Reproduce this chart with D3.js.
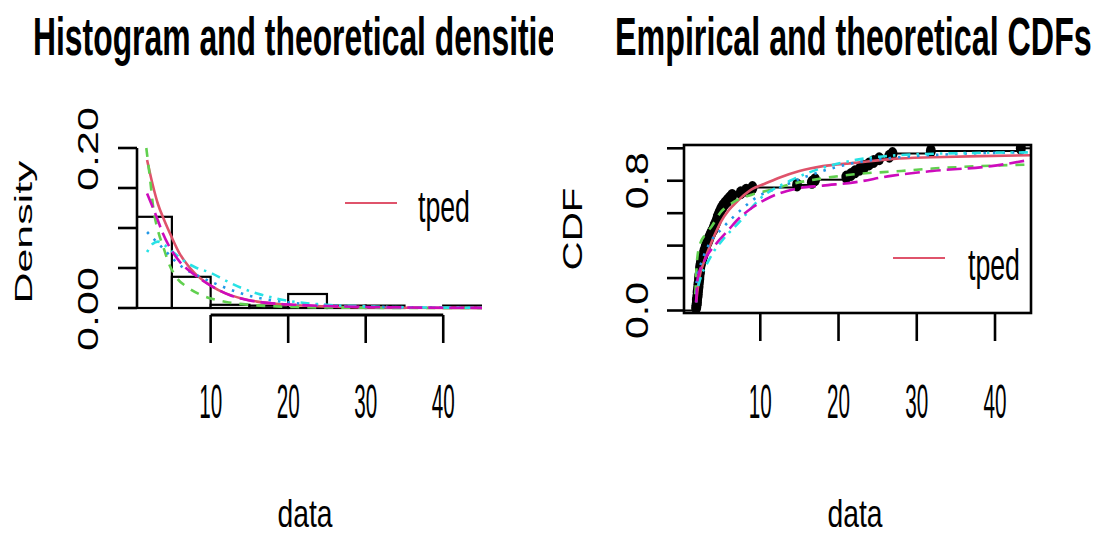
<!DOCTYPE html>
<html>
<head>
<meta charset="utf-8">
<script src="https://cdn.jsdelivr.net/npm/d3@7"></script>
<style>
  body { margin: 0; background: #fff; }
  svg { display: block; }
  text { font-family: "Liberation Sans", Arial, sans-serif; fill: #000; }
</style>
</head>
<body>
<svg id="chart" width="1102" height="534"></svg>
<script>
// ---- Histogram (density scale) ----
const binEdges   = [0, 5, 10, 15, 20, 25, 30, 35, 40, 45];
const binDensity = [0.114, 0.039, 0.004, 0.003, 0.0175, 0.003, 0.003, 0, 0.003];

// ---- Observed sample (sorted) used for the empirical CDF ----
const sample = [
  1.8, 1.85, 1.9, 1.9, 1.95, 2.0, 2.0, 2.05, 2.1, 2.1, 2.15, 2.2, 2.2, 2.25, 2.3, 2.3, 2.35, 2.4, 2.5,
  2.6, 2.7, 2.8, 2.9, 3.0, 3.1, 3.25, 3.4, 3.5, 3.65, 3.8, 4.0,
  4.1, 4.25, 4.4, 4.5, 4.6, 4.75, 4.9, 5.05, 5.25,
  5.5, 5.8, 6.1, 6.4,
  7.5, 8.2, 9.0,
  14.7,
  16.6, 17.0,
  21.0, 21.6, 22.1, 22.7, 23.3, 23.9, 24.5, 25.2,
  26.5, 26.9,
  31.8,
  43.3
];

// ---- Fitted densities: [x, density] ----
const densTped = [[1.8,0.185],[2.5,0.155],[3.2,0.13],[4,0.11],[5,0.088],[6,0.068],[7,0.054],[8,0.043],[10,0.028],[12,0.018],[14,0.012],[16,0.008],[20,0.004],[25,0.0018],[30,0.0008],[35,0.0004],[45,0.0001]];
const densFit2 = [[1.7,0.2],[2.2,0.16],[2.6,0.125],[3.2,0.097],[3.9,0.076],[4.6,0.056],[5.6,0.038],[7,0.026],[8.6,0.017],[10,0.012],[12,0.0075],[15,0.004],[18,0.0022],[21,0.0012],[30,0.0003],[45,0]];
const densFit3 = [[1.8,0.095],[2.5,0.088],[3.5,0.078],[4.5,0.068],[5.5,0.058],[6.5,0.05],[8,0.042],[10,0.033],[12,0.025],[14,0.018],[16,0.013],[18,0.0095],[20,0.007],[25,0.0035],[30,0.0018],[35,0.001],[45,0.0003]];
const densFit4 = [[1.8,0.07],[2.5,0.08],[3.2,0.083],[4,0.079],[5,0.071],[6,0.063],[7,0.056],[8,0.051],[10,0.044],[12,0.034],[14,0.025],[16,0.018],[18,0.013],[20,0.009],[25,0.004],[30,0.002],[35,0.001],[45,0.0003]];
const densFit5 = [[1.8,0.143],[2.4,0.129],[3.1,0.112],[3.8,0.094],[4.6,0.078],[6,0.058],[8,0.041],[10,0.028],[12.5,0.016],[15,0.0095],[18,0.0058],[21.5,0.0038],[25,0.0025],[30,0.0013],[35,0.0007],[45,0.0002]];

// ---- Fitted CDFs: [x, probability] ----
const cdfTped = [[1.8,0.05],[2.2,0.2],[2.8,0.3],[3.5,0.39],[4.2,0.47],[5,0.55],[6,0.62],[7,0.67],[8,0.715],[9,0.75],[10.5,0.78],[12.5,0.82],[15,0.86],[18,0.89],[22,0.91],[27,0.935],[32,0.945],[38,0.952],[44.6,0.957]];
const cdfFit2 = [[1.7,0.1],[1.9,0.3],[2.3,0.41],[3,0.47],[3.8,0.52],[5,0.61],[6,0.65],[7,0.68],[9,0.715],[11,0.74],[14,0.78],[18,0.815],[22,0.84],[28,0.86],[32,0.875],[38,0.89],[44.6,0.9]];
const cdfFit3 = [[1.8,0.05],[1.9,0.2],[2.5,0.3],[3.6,0.42],[5,0.5],[6.2,0.56],[8,0.64],[9.6,0.7],[12.6,0.76],[15,0.81],[18,0.86],[22,0.91],[26.7,0.94],[35,0.965],[44.6,0.975]];
const cdfFit4 = [[1.8,0.1],[2.5,0.22],[3.2,0.29],[4,0.36],[5.1,0.43],[7.4,0.55],[10,0.69],[13.8,0.8],[18,0.88],[22.4,0.93],[31,0.965],[44.6,0.975]];
const cdfFit5 = [[1.8,0.05],[2,0.2],[2.9,0.31],[4.5,0.42],[6,0.5],[7,0.555],[9,0.635],[11.3,0.7],[14.5,0.75],[18,0.77],[22,0.79],[26.7,0.83],[32,0.86],[39.5,0.89],[44.6,0.93]];

// ---- Axis ticks and labels ----
const xTicks        = [10, 20, 30, 40];
const densTicks     = [0, 0.05, 0.10, 0.15, 0.20];
const densLabelled  = [0, 0.20];
const cdfTicks      = [0, 0.2, 0.4, 0.6, 0.8, 1.0];
const cdfLabelled   = [0, 0.8];
const legendNames   = ["tped"];

// line styles for the five fits (R default palette 2..6, lty 1..5)
const fitStyles = [
  { color: "#DF536B", dash: null },
  { color: "#61D04F", dash: "9,8" },
  { color: "#2297E6", dash: "2.5,7" },
  { color: "#28E2E5", dash: "2.5,6,9,6" },
  { color: "#CD0BBC", dash: "15,6" }
];
const densSeries = [densTped, densFit2, densFit3, densFit4, densFit5];
const cdfSeries  = [cdfTped, cdfFit2, cdfFit3, cdfFit4, cdfFit5];

const svg = d3.select("#chart");
const defs = svg.append("defs");

// text helper: squeezes the text horizontally (in its own frame) to a given length,
// which gives the narrow, tall lettering
function label(g, str, x, y, size, len, opts = {}) {
  const t = g.append("text")
    .attr("font-size", size)
    .attr("font-weight", opts.bold ? "bold" : "normal")
    .attr("text-anchor", opts.anchorStart ? "start" : "middle")
    .text(str);
  const natural = t.node().getComputedTextLength();
  const sx = len / natural;
  const rot = opts.rotate ? " rotate(-90)" : "";
  t.attr("transform", `translate(${x},${y})${rot} scale(${sx},1)`);
  return t;
}

// ================= Left panel: histogram + densities =================
const xL = d3.scaleLinear().domain([0.5, 45]).range([137, 482]);
const yL = d3.scaleLinear().domain([0, 0.2]).range([308, 148]);

defs.append("clipPath").attr("id", "clipL")
  .append("rect").attr("x", 137).attr("y", 141).attr("width", 345).attr("height", 174);
defs.append("clipPath").attr("id", "clipTitleL")
  .append("rect").attr("x", 0).attr("y", 0).attr("width", 553).attr("height", 90);

const left = svg.append("g");

label(left.append("g").attr("clip-path", "url(#clipTitleL)"),
  "Histogram and theoretical densities", 33, 55, 53, 540, { bold: true, anchorStart: true });

const bars = binDensity.map((d, i) => ({ x0: binEdges[i], x1: binEdges[i + 1], d }));
left.append("g").attr("clip-path", "url(#clipL)")
  .selectAll("rect").data(bars).join("rect")
  .attr("x", b => xL(b.x0))
  .attr("width", b => xL(b.x1) - xL(b.x0))
  .attr("y", b => yL(b.d))
  .attr("height", b => yL(0) - yL(b.d))
  .attr("fill", "#fff")
  .attr("stroke", "#000")
  .attr("stroke-width", 2.2);

const densLine = d3.line().x(p => xL(p[0])).y(p => yL(p[1])).curve(d3.curveMonotoneX);
left.append("g").attr("clip-path", "url(#clipL)")
  .selectAll("path").data(densSeries).join("path")
  .attr("d", densLine)
  .attr("fill", "none")
  .attr("stroke", (s, i) => fitStyles[i].color)
  .attr("stroke-width", 2.6)
  .attr("stroke-dasharray", (s, i) => fitStyles[i].dash);

// y axis (density)
const yAxisL = left.append("g");
yAxisL.append("line").attr("x1", 137).attr("x2", 137)
  .attr("y1", yL(0.2)).attr("y2", yL(0)).attr("stroke", "#000").attr("stroke-width", 2.6);
yAxisL.selectAll("line.tick").data(densTicks).join("line").attr("class", "tick")
  .attr("x1", 118).attr("x2", 137).attr("y1", d => yL(d)).attr("y2", d => yL(d))
  .attr("stroke", "#000").attr("stroke-width", 2.6);
densLabelled.forEach(v => label(yAxisL, d3.format(".2f")(v), 98, yL(v) + 1, 29, 84, { rotate: true }));
label(left, "Density", 32, 232, 24, 143, { rotate: true });

// x axis
const xAxisL = left.append("g");
xAxisL.append("line").attr("x1", xL(10)).attr("x2", xL(40)).attr("y1", 315).attr("y2", 315)
  .attr("stroke", "#000").attr("stroke-width", 3);
xAxisL.selectAll("line.tick").data(xTicks).join("line").attr("class", "tick")
  .attr("x1", d => xL(d)).attr("x2", d => xL(d)).attr("y1", 315).attr("y2", 343)
  .attr("stroke", "#000").attr("stroke-width", 2.6);
xTicks.forEach(v => label(xAxisL, String(v), xL(v), 418, 49, 23));
label(left, "data", 305, 527, 38, 55);

// legend
left.append("line").attr("x1", 345).attr("x2", 397).attr("y1", 203).attr("y2", 203)
  .attr("stroke", fitStyles[0].color).attr("stroke-width", 2.2);
label(left, legendNames[0], 418, 222, 44, 52, { anchorStart: true });

// ================= Right panel: empirical + theoretical CDFs =================
const xR = d3.scaleLinear().domain([0.25, 44.6]).range([684, 1031]);
const yR = d3.scaleLinear().domain([0, 1]).range([310.5, 148.3]);

defs.append("clipPath").attr("id", "clipR")
  .append("rect").attr("x", 684).attr("y", 145).attr("width", 347).attr("height", 168);

const right = svg.append("g");
label(right, "Empirical and theoretical CDFs", 615, 55, 53, 477, { bold: true, anchorStart: true });

const n = sample.length;
const ecdfPts = sample.map((v, i) => ({ x: v, F: (i + 1) / n, next: i + 1 < n ? sample[i + 1] : 44.6 }));

const plotR = right.append("g").attr("clip-path", "url(#clipR)");
// horizontal steps
plotR.append("line").attr("x1", xR(0.25)).attr("x2", xR(sample[0])).attr("y1", yR(0)).attr("y2", yR(0))
  .attr("stroke", "#000").attr("stroke-width", 2);
plotR.selectAll("line.step").data(ecdfPts).join("line").attr("class", "step")
  .attr("x1", d => xR(d.x)).attr("x2", d => xR(d.next))
  .attr("y1", d => yR(d.F)).attr("y2", d => yR(d.F))
  .attr("stroke", "#000").attr("stroke-width", 2);
// points
plotR.selectAll("ellipse").data(ecdfPts).join("ellipse")
  .attr("cx", d => xR(d.x)).attr("cy", d => yR(d.F))
  .attr("rx", 5).attr("ry", 6.5).attr("fill", "#000");

const cdfLine = d3.line().x(p => xR(p[0])).y(p => yR(p[1])).curve(d3.curveMonotoneX);
plotR.selectAll("path").data(cdfSeries).join("path")
  .attr("d", cdfLine)
  .attr("fill", "none")
  .attr("stroke", (s, i) => fitStyles[i].color)
  .attr("stroke-width", 2.6)
  .attr("stroke-dasharray", (s, i) => fitStyles[i].dash);

// frame
right.append("rect").attr("x", 684).attr("y", 145).attr("width", 347).attr("height", 168)
  .attr("fill", "none").attr("stroke", "#000").attr("stroke-width", 2.6);

// y axis
const yAxisR = right.append("g");
yAxisR.selectAll("line").data(cdfTicks).join("line")
  .attr("x1", 667).attr("x2", 684).attr("y1", d => yR(d)).attr("y2", d => yR(d))
  .attr("stroke", "#000").attr("stroke-width", 2.6);
cdfLabelled.forEach(v => label(yAxisR, d3.format(".1f")(v), 648, yR(v), 32, 57, { rotate: true }));
label(right, "CDF", 582, 229, 28, 83, { rotate: true });

// x axis
const xAxisR = right.append("g");
xAxisR.selectAll("line").data(xTicks).join("line")
  .attr("x1", d => xR(d)).attr("x2", d => xR(d)).attr("y1", 313).attr("y2", 341)
  .attr("stroke", "#000").attr("stroke-width", 2.6);
xTicks.forEach(v => label(xAxisR, String(v), xR(v), 418, 49, 23));
label(right, "data", 855, 527, 38, 55);

// legend
right.append("line").attr("x1", 893).attr("x2", 945).attr("y1", 258).attr("y2", 258)
  .attr("stroke", fitStyles[0].color).attr("stroke-width", 2.2);
label(right, legendNames[0], 968, 280, 44, 52, { anchorStart: true });
</script>
</body>
</html>
